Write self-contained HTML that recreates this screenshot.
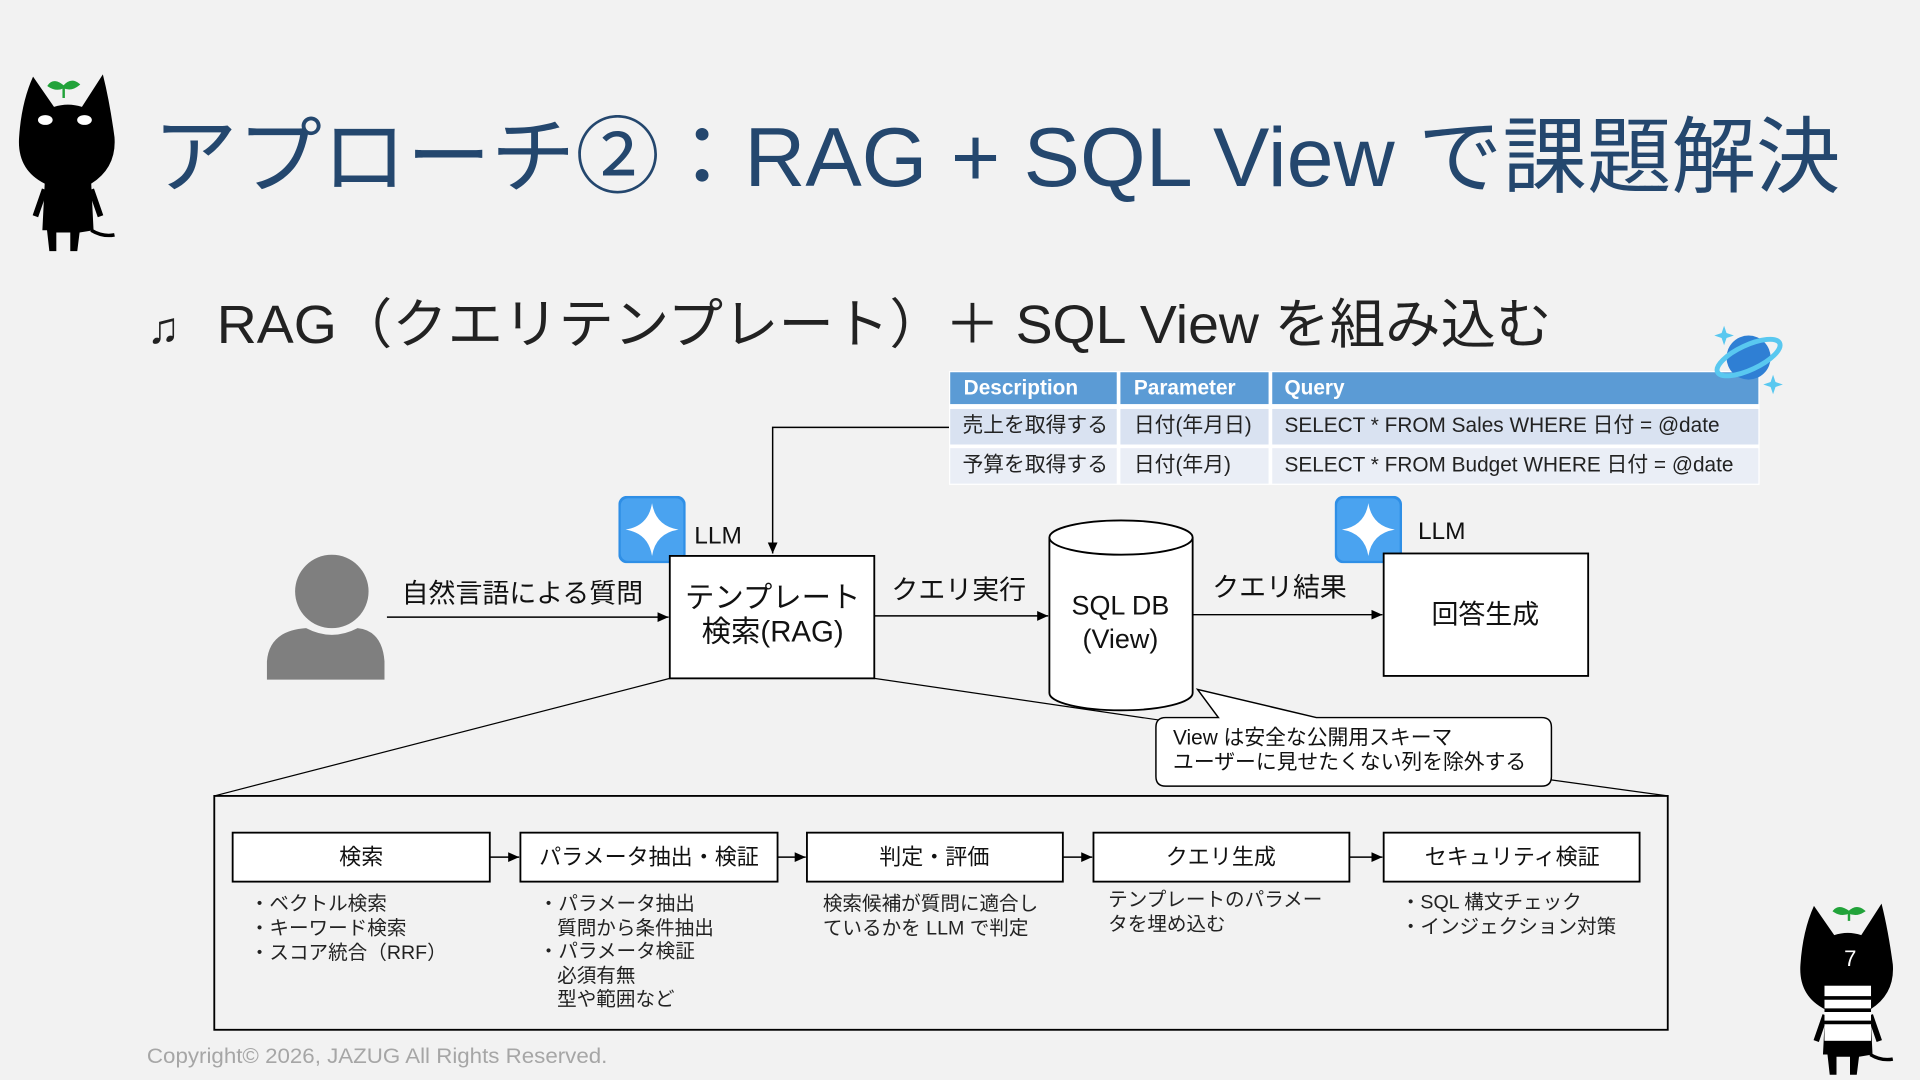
<!DOCTYPE html>
<html><head><meta charset="utf-8"><style>
html,body{margin:0;padding:0;background:#f2f2f2;}
svg{display:block;font-family:"Liberation Sans","Noto Sans CJK JP",sans-serif;}
</style></head><body>
<svg width="1920" height="1080" viewBox="0 0 1568 882" xmlns="http://www.w3.org/2000/svg">
<defs>
<marker id="ar" markerWidth="10" markerHeight="10" refX="9" refY="5" orient="auto" markerUnits="userSpaceOnUse"><path d="M0,1 L9,5 L0,9 z" fill="#000"/></marker>
<symbol id="cat" viewBox="0 0 100 160">
<path d="M20,8 L38,34 Q50,30 62,34 L80,6 Q86,30 90,60 Q92,86 70,100 L72,140 L60,142 L58,158 L52,158 L52,142 L40,142 L40,158 L34,158 L32,140 L28,140 L30,100 Q6,88 8,60 Q10,30 20,8z" fill="#000"/>
<path d="M70,140 Q80,146 90,144" stroke="#000" stroke-width="3" fill="none"/>
<path d="M30,105 L22,128 M70,105 L78,128" stroke="#000" stroke-width="5"/>
</symbol>
<symbol id="llm" viewBox="0 0 56 56">
<rect x="0" y="0" width="56" height="56" rx="7" fill="#2f8fe6"/>
<rect x="2" y="2" width="52" height="52" rx="6" fill="#4aa3f0"/>
<path d="M28,6 Q31,25 50,28 Q31,31 28,50 Q25,31 6,28 Q25,25 28,6z" fill="#fff"/>
</symbol>
</defs>
<rect width="1568" height="882" fill="#f2f2f2"/>

<use href="#cat" x="8" y="55" width="95" height="152"/>
<ellipse cx="37" cy="98" rx="6" ry="4" fill="#fff"/><ellipse cx="69" cy="98" rx="6" ry="4" fill="#fff"/>
<path d="M52,80 L52,70 M52,71 Q44,64 40,70 Q46,74 52,71 Q58,64 64,69 Q58,74 52,71" stroke="#22a33a" stroke-width="2" fill="#22a33a"/>

<text x="125" y="152" font-size="68" fill="#24476e" textLength="1378" lengthAdjust="spacingAndGlyphs">アプローチ②：RAG + SQL View で課題解決</text>
<text x="120" y="280" font-size="36" fill="#222">♫</text>
<text x="177" y="280" font-size="44" fill="#222" textLength="1090" lengthAdjust="spacingAndGlyphs">RAG（クエリテンプレート）＋ SQL View を組み込む</text>

<rect x="775" y="303" width="662" height="93" fill="#fff"/>
<rect x="776" y="304" width="136" height="26" fill="#5b9bd5"/>
<rect x="915" y="304" width="121" height="26" fill="#5b9bd5"/>
<rect x="1039" y="304" width="397" height="26" fill="#5b9bd5"/>
<rect x="776" y="334" width="136" height="29" fill="#d9e2f1"/>
<rect x="915" y="334" width="121" height="29" fill="#d9e2f1"/>
<rect x="1039" y="334" width="397" height="29" fill="#d9e2f1"/>
<rect x="776" y="366" width="136" height="29" fill="#eaeef6"/>
<rect x="915" y="366" width="121" height="29" fill="#eaeef6"/>
<rect x="1039" y="366" width="397" height="29" fill="#eaeef6"/>
<g font-size="17" fill="#fff" font-weight="bold"><text x="787" y="322">Description</text><text x="926" y="322">Parameter</text><text x="1049" y="322">Query</text></g>
<g font-size="17" fill="#222"><text x="786" y="353">売上を取得する</text><text x="926" y="353">日付(年月日)</text><text x="1049" y="353">SELECT * FROM Sales WHERE 日付 = @date</text>
<text x="786" y="385">予算を取得する</text><text x="926" y="385">日付(年月)</text><text x="1049" y="385">SELECT * FROM Budget WHERE 日付 = @date</text></g>
<circle cx="1428" cy="292" r="18" fill="#2f7fd4"/>
<ellipse cx="1428" cy="292" rx="28" ry="10" fill="none" stroke="#59c8f0" stroke-width="4" transform="rotate(-25 1428 292)"/>
<path d="M1408,266 l2,6 6,2 -6,2 -2,6 -2,-6 -6,-2 6,-2z M1448,306 l2,6 6,2 -6,2 -2,6 -2,-6 -6,-2 6,-2z" fill="#59c8f0"/>

<path d="M775,349 L631,349 L631,452" stroke="#000" stroke-width="1.2" fill="none" marker-end="url(#ar)"/>

<use href="#llm" x="505" y="405" width="55" height="55"/>
<text x="567" y="444" font-size="20" fill="#111">LLM</text>
<use href="#llm" x="1090" y="405" width="55" height="55"/>
<text x="1158" y="440" font-size="20" fill="#111">LLM</text>

<circle cx="271" cy="483" r="30" fill="#7f7f7f"/>
<path d="M218,555 L218,540 Q220,515 250,513 Q271,524 292,513 Q312,515 314,540 L314,555z" fill="#7f7f7f"/>

<line x1="316" y1="504" x2="546" y2="504" stroke="#000" stroke-width="1.2" marker-end="url(#ar)"/>
<text x="328" y="492" font-size="22" fill="#111">自然言語による質問</text>

<rect x="547" y="454" width="167" height="100" fill="#fff" stroke="#000" stroke-width="1.5"/>
<text x="631" y="496" font-size="24" text-anchor="middle" fill="#111">テンプレート</text>
<text x="631" y="524" font-size="24" text-anchor="middle" fill="#111">検索(RAG)</text>

<line x1="714" y1="503" x2="856" y2="503" stroke="#000" stroke-width="1.2" marker-end="url(#ar)"/>
<text x="728" y="489" font-size="22" fill="#111">クエリ実行</text>

<path d="M857,439 L857,566 A58,14 0 0 0 974,566 L974,439" fill="#fff" stroke="#000" stroke-width="1.5"/>
<ellipse cx="915.5" cy="439" rx="58.5" ry="14" fill="#fff" stroke="#000" stroke-width="1.5"/>
<text x="915" y="502" font-size="22" text-anchor="middle" fill="#111">SQL DB</text>
<text x="915" y="529" font-size="22" text-anchor="middle" fill="#111">(View)</text>

<line x1="974" y1="502" x2="1129" y2="502" stroke="#000" stroke-width="1.2" marker-end="url(#ar)"/>
<text x="990" y="487" font-size="22" fill="#111">クエリ結果</text>

<rect x="1130" y="452" width="167" height="100" fill="#fff" stroke="#000" stroke-width="1.5"/>
<text x="1213" y="509" font-size="22" text-anchor="middle" fill="#111">回答生成</text>

<line x1="547" y1="554" x2="175" y2="650" stroke="#000" stroke-width="1"/>
<line x1="714" y1="554" x2="960" y2="590" stroke="#000" stroke-width="1"/>
<line x1="1260" y1="636" x2="1362" y2="650" stroke="#000" stroke-width="1"/>

<path d="M952,586 L995,586 L978,563 L1075,586 L1259,586 Q1267,586 1267,594 L1267,634 Q1267,642 1259,642 L952,642 Q944,642 944,634 L944,594 Q944,586 952,586z" fill="#fff" stroke="#000" stroke-width="1.2"/>
<text x="958" y="608" font-size="17" fill="#111">View は安全な公開用スキーマ</text>
<text x="958" y="628" font-size="17" fill="#111">ユーザーに見せたくない列を除外する</text>

<rect x="175" y="650" width="1187" height="191" fill="#f2f2f2" stroke="#000" stroke-width="1.5"/>
<g fill="#fff" stroke="#000" stroke-width="1.5">
<rect x="190" y="680" width="210" height="40"/><rect x="425" y="680" width="210" height="40"/><rect x="659" y="680" width="209" height="40"/><rect x="893" y="680" width="209" height="40"/><rect x="1130" y="680" width="209" height="40"/>
</g>
<g stroke="#000" stroke-width="1.2" marker-end="url(#ar)"><line x1="400" y1="700" x2="424" y2="700"/><line x1="635" y1="700" x2="658" y2="700"/><line x1="868" y1="700" x2="892" y2="700"/><line x1="1102" y1="700" x2="1129" y2="700"/></g>
<g font-size="18" fill="#111" text-anchor="middle">
<text x="295" y="706">検索</text><text x="530" y="706">パラメータ抽出・検証</text><text x="763" y="706">判定・評価</text><text x="997" y="706">クエリ生成</text><text x="1235" y="706">セキュリティ検証</text></g>
<g font-size="16" fill="#222">
<text x="204" y="743">・ベクトル検索</text><text x="204" y="763">・キーワード検索</text><text x="204" y="783">・スコア統合（RRF）</text>
<text x="440" y="743">・パラメータ抽出</text><text x="455" y="763">質問から条件抽出</text><text x="440" y="782">・パラメータ検証</text><text x="455" y="802">必須有無</text><text x="455" y="821">型や範囲など</text>
<text x="672" y="743">検索候補が質問に適合し</text><text x="672" y="763">ているかを LLM で判定</text>
<text x="905" y="740">テンプレートのパラメー</text><text x="905" y="760">タを埋め込む</text>
<text x="1144" y="742">・SQL 構文チェック</text><text x="1144" y="762">・インジェクション対策</text></g>

<use href="#cat" x="1463" y="730" width="92" height="152"/>
<rect x="1490" y="805" width="38" height="45" fill="#fff"/>
<g stroke="#000" stroke-width="3"><line x1="1490" y1="815" x2="1528" y2="815"/><line x1="1490" y1="825" x2="1528" y2="825"/><line x1="1490" y1="835" x2="1528" y2="835"/></g>
<path d="M1510,752 L1510,744 M1510,745 Q1502,739 1498,744 Q1504,748 1510,745 Q1516,739 1522,744 Q1516,748 1510,745" stroke="#22a33a" stroke-width="2" fill="#22a33a"/>
<text x="1511" y="789" font-size="18" fill="#fff" text-anchor="middle">7</text>

<text x="120" y="868" font-size="17" fill="#a6a6a6" textLength="376" lengthAdjust="spacingAndGlyphs">Copyright© 2026, JAZUG All Rights Reserved.</text>
</svg>
</body></html>
